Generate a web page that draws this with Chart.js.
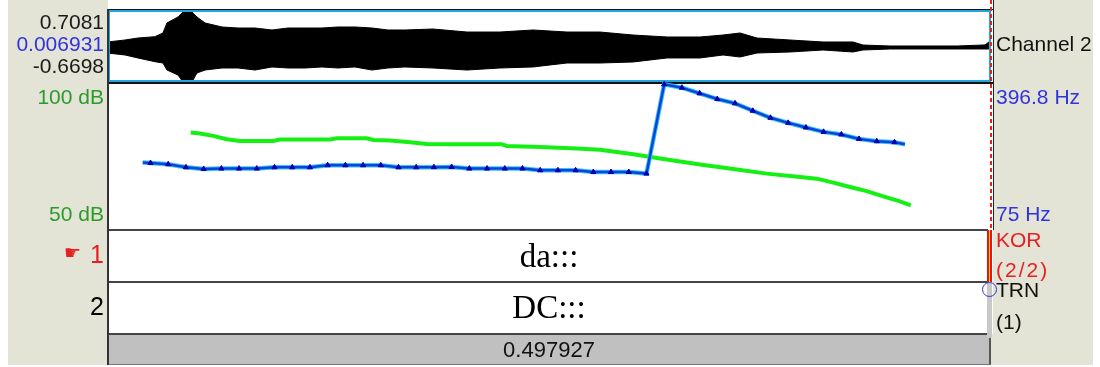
<!DOCTYPE html>
<html>
<head>
<meta charset="utf-8">
<script src="https://cdn.jsdelivr.net/npm/chart.js@4.4.0/dist/chart.umd.min.js"></script>
<style>
body { margin:0; width:1100px; height:367px; background:#fff; position:relative; overflow:hidden;
       font-family:"Liberation Sans", Arial, sans-serif; }
.a { position:absolute; }
.lab { position:absolute; font-size:21px; line-height:24px; white-space:nowrap; }
.l { right:996px; text-align:right; }
.r { left:996px; }
.tier { position:absolute; left:108px; width:882px; text-align:center;
        font-family:"Liberation Serif", "Times New Roman", serif; font-size:33px; line-height:40px; color:#000; }
</style>
</head>
<body>
<div class="a" style="left:8px;top:0;width:1085px;height:365px;background:#e3e3d6"></div>
<div class="a" style="left:108px;top:0;width:885px;height:334px;background:#fff"></div>

<canvas id="wave" class="a" width="882" height="70" style="left:108px;top:12px"></canvas>

<!-- waveform frame -->
<div class="a" style="left:108px;top:9px;width:885px;height:1px;background:#111"></div>
<div class="a" style="left:108px;top:10px;width:883px;height:2px;background:#22a6e0"></div>
<div class="a" style="left:108px;top:80px;width:883px;height:2px;background:#22a6e0"></div>
<div class="a" style="left:108px;top:82px;width:885px;height:1.5px;background:#111"></div>
<div class="a" style="left:108px;top:10px;width:2px;height:72px;background:#22a6e0"></div>
<div class="a" style="left:989px;top:10px;width:2px;height:72px;background:#22a6e0"></div>

<canvas id="pitch" class="a" width="898" height="154" style="left:100px;top:80px"></canvas>

<!-- tiers -->
<div class="a" style="left:108px;top:229px;width:880px;height:2px;background:#444"></div>
<div class="a" style="left:108px;top:281px;width:880px;height:2px;background:#444"></div>
<div class="a" style="left:108px;top:333px;width:882px;height:2px;background:#444"></div>
<div class="a" style="left:108px;top:335px;width:881px;height:29px;background:#c0c0c0;border-right:2px solid #555;border-bottom:1px solid #777"></div>
<div class="a" style="left:107px;top:9px;width:2px;height:356px;background:#333"></div>
<div class="a" style="left:987px;top:230px;width:5px;height:52px;background:#e81414"></div>
<div class="a" style="left:989px;top:230px;width:1px;height:52px;background:#f4e020"></div>
<div class="a" style="left:987px;top:283px;width:5px;height:55px;background:#c8c8c8;border-radius:0 0 2px 2px"></div>
<div class="a" style="left:982px;top:282px;width:13px;height:13px;border:1.3px solid #3030e0;border-radius:50%"></div>
<div class="a" style="left:990px;top:0;width:1.5px;height:231px;background:repeating-linear-gradient(to bottom,#e82020 0 4px,transparent 4px 7px)"></div>
<div class="a" style="left:993px;top:0;width:1px;height:230px;background:#222"></div>

<div class="tier" style="top:236px">da:::</div>
<div class="tier" style="top:287px">DC:::</div>
<div class="lab" style="left:108px;width:882px;text-align:center;top:338px;font-size:22px;color:#111">0.497927</div>

<!-- left labels -->
<div class="lab l" style="top:10px;color:#1a1a1a">0.7081</div>
<div class="lab l" style="top:32px;color:#3333dd">0.006931</div>
<div class="lab l" style="top:54px;color:#1a1a1a">-0.6698</div>
<div class="lab l" style="top:85px;color:#2b9b2b">100 dB</div>
<div class="lab l" style="top:202px;color:#2b9b2b">50 dB</div>
<div class="lab" style="right:1019px;top:240px;color:#e82020;font-family:'DejaVu Sans';font-size:19px">☛</div>
<div class="lab l" style="top:240px;color:#e82020;font-size:25px;line-height:28px">1</div>
<div class="lab l" style="top:292px;color:#000;font-size:25px;line-height:28px">2</div>

<!-- right labels -->
<div class="lab r" style="top:32px;color:#111">Channel 2</div>
<div class="lab r" style="top:85px;color:#3333dd">396.8 Hz</div>
<div class="lab r" style="top:202px;color:#3333dd">75 Hz</div>
<div class="lab r" style="top:228px;color:#e82020">KOR</div>
<div class="lab r" style="top:258px;color:#e82020;letter-spacing:2px">(2/2)</div>
<div class="lab r" style="top:278px;color:#111">TRN</div>
<div class="lab r" style="top:310px;color:#111">(1)</div>

<script>
// visible window, seconds
const viewStart = 0;
const viewEnd = 0.497927;

// waveform envelope (channel 2)
const waveTimes = [0.0006, 0.0011, 0.0096, 0.0169, 0.0265, 0.0310, 0.0333, 0.0395, 0.0423, 0.0452,
  0.0474, 0.0502, 0.0548, 0.0644, 0.0734, 0.0830, 0.0926, 0.1016, 0.1112, 0.1208,
  0.1298, 0.1394, 0.1490, 0.1580, 0.1676, 0.1835, 0.2027, 0.2213, 0.2399, 0.2591,
  0.2777, 0.2964, 0.3156, 0.3342, 0.3472, 0.3568, 0.3664, 0.3850, 0.4037, 0.4206,
  0.4262, 0.4415, 0.4793, 0.4951, 0.4974];
const waveUpper = [0.05, 0.123, 0.157, 0.196, 0.222, 0.295, 0.492, 0.610, 0.708, 0.708,
  0.708, 0.610, 0.492, 0.413, 0.393, 0.393, 0.354, 0.393, 0.393, 0.393,
  0.413, 0.413, 0.393, 0.354, 0.354, 0.373, 0.314, 0.314, 0.354, 0.314,
  0.314, 0.255, 0.216, 0.216, 0.255, 0.295, 0.196, 0.157, 0.118, 0.118,
  0.058, 0.039, 0.039, 0.06, 0.12];
const waveLower = [-0.02, -0.105, -0.138, -0.197, -0.270, -0.296, -0.434, -0.532, -0.670, -0.670,
  -0.670, -0.493, -0.434, -0.394, -0.394, -0.434, -0.374, -0.394, -0.394, -0.374,
  -0.394, -0.374, -0.434, -0.394, -0.374, -0.394, -0.434, -0.394, -0.374, -0.296,
  -0.296, -0.276, -0.197, -0.197, -0.138, -0.178, -0.099, -0.079, -0.040, -0.079,
  -0.040, -0.020, -0.020, -0.02, -0.02];
const waveMin = -0.6698, waveMax = 0.7081;

// pitch (Hz)
const pitchTimes = [0.0196, 0.024, 0.034, 0.044, 0.054, 0.064, 0.074, 0.084, 0.094, 0.104, 0.114,
  0.124, 0.134, 0.144, 0.154, 0.164, 0.174, 0.184, 0.194, 0.204, 0.214,
  0.224, 0.234, 0.244, 0.254, 0.264, 0.274, 0.284, 0.294, 0.304, 0.314,
  0.324, 0.334, 0.344, 0.354, 0.364, 0.374, 0.384, 0.394, 0.404, 0.414,
  0.424, 0.434, 0.444, 0.4499];
const pitchHz = [224.0, 222.7, 219.9, 213.2, 209.5, 210.4, 210.4, 210.4, 213.2, 213.2, 213.2,
  217.7, 217.7, 217.7, 217.7, 213.2, 213.2, 213.5, 213.9, 210.4, 210.4,
  210.4, 210.4, 206.6, 206.6, 206.6, 202.8, 202.8, 202.8, 199.3, 396.1,
  388.6, 376.2, 363.6, 354.1, 337.8, 322.3, 311.2, 301.0, 291.3, 285.6,
  275.8, 270.7, 268.5, 264.1];
const pitchMin = 75, pitchMax = 396.8;

// intensity (dB)
const intTimes = [0.0467, 0.0519, 0.0594, 0.0670, 0.0745, 0.0933, 0.0971, 0.1253, 0.1291, 0.1460,
  0.1498, 0.1592, 0.1705, 0.1799, 0.1931, 0.2223, 0.2251, 0.2439, 0.2646, 0.2778,
  0.2966, 0.3117, 0.3342, 0.3530, 0.3719, 0.3907, 0.4001, 0.4095, 0.4189, 0.4283,
  0.4377, 0.4471, 0.4532];
const intDb = [83.40, 83.06, 82.23, 81.10, 80.52, 80.52, 81.00, 81.00, 81.44, 81.44,
  80.86, 80.65, 80.07, 79.48, 79.38, 79.38, 78.80, 78.45, 77.90, 77.49,
  75.94, 74.47, 72.40, 70.89, 69.31, 68.14, 67.59, 66.22, 64.71, 63.33,
  61.51, 59.79, 58.42];
const dbMin = 50, dbMax = 100;

const zip = (xs, ys) => xs.map((x, i) => ({x: x, y: ys[i]}));
const quiet = {legend: {display: false}, tooltip: {enabled: false}};

new Chart(document.getElementById('wave'), {
  type: 'line',
  data: {
    datasets: [{
      data: zip(waveTimes, waveUpper),
      borderColor: '#000', backgroundColor: '#000', borderWidth: 1,
      pointRadius: 0, fill: '+1', tension: 0
    }, {
      data: zip(waveTimes, waveLower),
      borderColor: '#000', borderWidth: 1, pointRadius: 0, fill: false, tension: 0
    }]
  },
  options: {
    responsive: false, animation: false, events: [],
    layout: {padding: 0},
    plugins: quiet,
    scales: {
      x: {type: 'linear', min: viewStart, max: viewEnd, display: false},
      y: {min: waveMin, max: waveMax, display: false}
    }
  }
});

const radii = pitchTimes.map((t, i) => (i === 0 || i === pitchTimes.length - 1) ? 0 : 3);

new Chart(document.getElementById('pitch'), {
  type: 'line',
  data: {
    datasets: [{
      data: zip(pitchTimes, pitchHz), yAxisID: 'y', order: 1,
      borderColor: '#0846d8', borderWidth: 2.5, tension: 0,
      pointStyle: 'triangle', pointRadius: radii, pointBackgroundColor: '#0000b0',
      pointBorderColor: '#0000b0', pointBorderWidth: 1, clip: false
    }, {
      data: zip(pitchTimes, pitchHz), yAxisID: 'y', order: 2,
      borderColor: '#3cc0fa', borderWidth: 4.5, tension: 0, pointRadius: 0, clip: false
    }, {
      data: zip(intTimes, intDb), yAxisID: 'db', order: 3,
      borderColor: '#14f014', borderWidth: 4, tension: 0, pointRadius: 0, clip: false
    }]
  },
  options: {
    responsive: false, animation: false, events: [],
    layout: {padding: {left: 8, right: 8, top: 4, bottom: 4}},
    plugins: quiet,
    scales: {
      x: {type: 'linear', min: viewStart, max: viewEnd, display: false},
      y: {min: pitchMin, max: pitchMax, display: false},
      db: {min: dbMin, max: dbMax, display: false}
    }
  }
});
</script>
</body>
</html>
